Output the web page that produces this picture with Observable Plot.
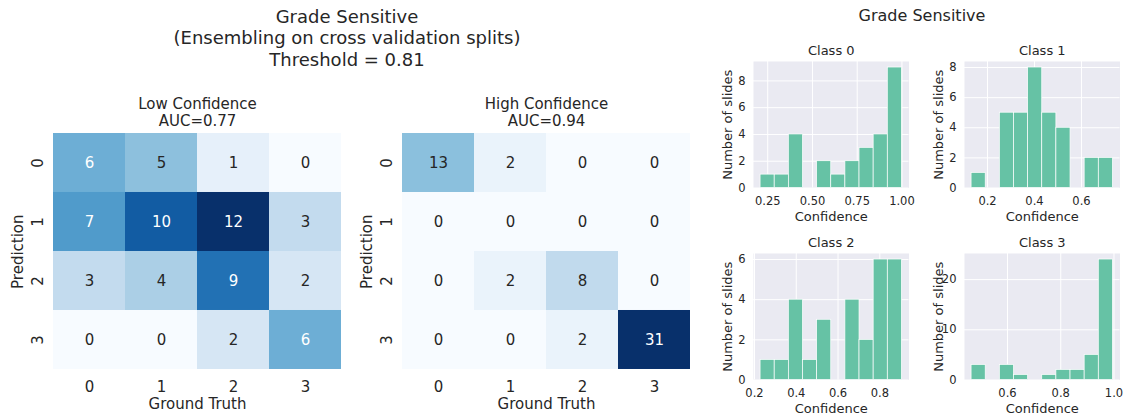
<!DOCTYPE html>
<html><head><meta charset="utf-8">
<script src="https://cdn.jsdelivr.net/npm/d3@7"></script>
<script src="https://cdn.jsdelivr.net/npm/@observablehq/plot@0.6"></script>
<style>
html,body{margin:0;padding:0;background:#fff;}
#fig{position:relative;width:1129px;height:419px;overflow:hidden;font-family:"DejaVu Sans",sans-serif;color:#262626;}
#fig > *{position:absolute;}
.title{text-align:center;white-space:pre;}
</style></head><body><div id="fig"></div>
<script>
// ---- data ----
const classes = ["0", "1", "2", "3"];
const lowConfidence = [[6, 5, 1, 0], [7, 10, 12, 3], [3, 4, 9, 2], [0, 0, 2, 6]];
const highConfidence = [[13, 2, 0, 0], [0, 0, 0, 0], [0, 2, 8, 0], [0, 0, 2, 31]];
const lowAUC = "0.77";
const highAUC = "0.94";
const threshold = "0.81";
const histRanges = [[0.21, 1.0], [0.132, 0.734], [0.229, 0.906], [0.465, 0.996]];
const histCounts0 = [1, 1, 4, 0, 2, 1, 2, 3, 4, 9];
const histCounts1 = [1, 0, 5, 5, 8, 5, 4, 0, 2, 2];
const histCounts2 = [1, 1, 4, 1, 3, 0, 4, 2, 6, 6];
const histCounts3 = [3, 0, 3, 1, 0, 1, 2, 2, 5, 24];
const histXTicks = [[0.25, 0.5, 0.75, 1.0], [0.2, 0.4, 0.6], [0.2, 0.4, 0.6, 0.8], [0.6, 0.8, 1.0]];
const histXFormats = [".2f", ".1f", ".1f", ".1f"];
const histYTicks = [[0, 2, 4, 6, 8], [0, 2, 4, 6, 8], [0, 2, 4, 6], [0, 10, 20]];

const FONT = '"DejaVu Sans", sans-serif';
const INK = "#262626";
const fig = document.getElementById("fig");

function place(el, left, top) {
  el.style.left = left + "px";
  el.style.top = top + "px";
  fig.appendChild(el);
}

function heatmap(matrix, title, svgLeft, frameLeft, labelX) {
  const data = [];
  matrix.forEach((row, i) => row.forEach((v, j) => data.push({pred: classes[i], truth: classes[j], v})));
  const vmax = d3.max(data, d => d.v);
  const top = 80, mL = frameLeft - svgLeft, mT = 131.7 - top, fw = 290, fh = 239, mR = 8, mB = 45;
  const light = data.filter(d => d.v / vmax > 0.45);
  const dark = data.filter(d => d.v / vmax <= 0.45);
  const p = Plot.plot({
    width: mL + fw + mR, height: mT + fh + mB,
    marginLeft: mL, marginRight: mR, marginTop: mT, marginBottom: mB,
    style: {fontFamily: FONT, color: INK, background: "transparent", overflow: "visible"},
    x: {type: "band", domain: classes, padding: 0, axis: null},
    y: {type: "band", domain: classes, padding: 0, axis: null},
    color: {type: "linear", scheme: "blues", domain: [0, vmax]},
    marks: [
      Plot.cell(data, {x: "truth", y: "pred", fill: "v", inset: 0}),
      Plot.text(light, {x: "truth", y: "pred", text: d => String(d.v), fill: "white", fontSize: 15}),
      Plot.text(dark, {x: "truth", y: "pred", text: d => String(d.v), fill: INK, fontSize: 15}),
      Plot.text(classes, {x: d => d, frameAnchor: "bottom", dy: 16, lineAnchor: "middle", fontSize: 15, fill: INK}),
      Plot.text(classes, {y: d => d, frameAnchor: "left", dx: -14.3, rotate: -90, textAnchor: "middle", lineAnchor: "middle", fontSize: 15, fill: INK}),
      Plot.text([title], {frameAnchor: "top", dy: -20.3, lineAnchor: "middle", lineHeight: 1.15, fontSize: 15, fill: INK}),
      Plot.text(["Ground Truth"], {frameAnchor: "bottom", dy: 33.3, lineAnchor: "middle", fontSize: 15, fill: INK}),
      Plot.text(["Prediction"], {frameAnchor: "left", dx: labelX - frameLeft, rotate: -90, textAnchor: "middle", lineAnchor: "middle", fontSize: 15, fill: INK})
    ]
  });
  place(p, svgLeft, top);
}

function hist(k, frameLeft, frameTop) {
  const counts = [histCounts0, histCounts1, histCounts2, histCounts3][k];
  const [lo, hi] = histRanges[k];
  const n = counts.length, w = (hi - lo) / n;
  const bins = counts.map((c, i) => ({x1: lo + i * w, x2: lo + (i + 1) * w, c})).filter(b => b.c > 0);
  const pad = 0.05 * (hi - lo);
  const ymax = d3.max(counts) * 1.05;
  const mL = 52, mR = 8, mT = 28, mB = 42, fw = 155.5, fh = 126.5;
  const p = Plot.plot({
    width: mL + fw + mR, height: mT + fh + mB,
    marginLeft: mL, marginRight: mR, marginTop: mT, marginBottom: mB,
    style: {fontFamily: FONT, color: INK, background: "transparent", overflow: "visible"},
    x: {domain: [lo - pad, hi + pad]},
    y: {domain: [0, ymax]},
    marks: [
      Plot.frame({fill: "#eaeaf2", stroke: "none"}),
      Plot.gridX({ticks: histXTicks[k], stroke: "white", strokeOpacity: 1, strokeWidth: 1}),
      Plot.gridY({ticks: histYTicks[k], stroke: "white", strokeOpacity: 1, strokeWidth: 1}),
      Plot.rectY(bins, {x1: "x1", x2: "x2", y1: 0, y2: "c", fill: "#66c2a5", stroke: "white", strokeWidth: 0.7, inset: 0}),
      Plot.axisX({ticks: histXTicks[k], tickSize: 0, tickPadding: 9, fontSize: 11.5, tickFormat: d3.format(histXFormats[k]), label: null, fill: INK}),
      Plot.axisY({ticks: histYTicks[k], tickSize: 0, tickPadding: 8, fontSize: 11.5, tickFormat: d3.format("d"), label: null, fill: INK}),
      Plot.text([`Class ${k}`], {frameAnchor: "top", dy: -11, lineAnchor: "middle", fontSize: 13, fill: INK}),
      Plot.text(["Confidence"], {frameAnchor: "bottom", dy: 28.5, lineAnchor: "middle", fontSize: 13, fill: INK}),
      Plot.text(["Number of slides"], {frameAnchor: "left", dx: -25.5, rotate: -90, textAnchor: "middle", lineAnchor: "middle", fontSize: 13, fill: INK})
    ]
  });
  place(p, frameLeft - mL, frameTop - mT);
}

// main title
const t1 = document.createElement("div");
t1.className = "title";
t1.style.cssText = "width:500px;font-size:18px;line-height:21.3px;";
t1.textContent = `Grade Sensitive\n(Ensembling on cross validation splits)\nThreshold = ${threshold}`;
place(t1, 97, 6);

const t2 = document.createElement("div");
t2.className = "title";
t2.style.cssText = "width:200px;font-size:16px;line-height:19px;";
t2.textContent = "Grade Sensitive";
place(t2, 822, 5.5);

heatmap(lowConfidence, `Low Confidence\nAUC=${lowAUC}`, 0, 52, 18);
heatmap(highConfidence, `High Confidence\nAUC=${highAUC}`, 345, 401, 366.7);

hist(0, 753, 60.5);
hist(1, 963.5, 60.5);
hist(2, 753, 253);
hist(3, 963.5, 253);
</script></body></html>
